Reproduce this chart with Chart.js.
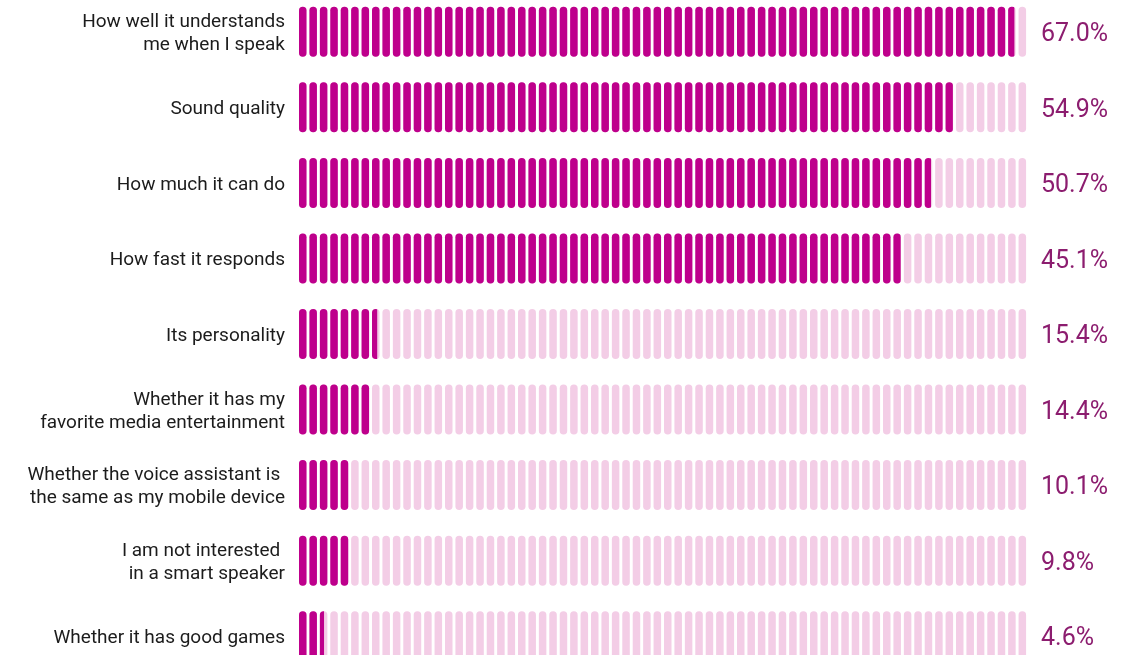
<!doctype html>
<html lang="en">

<head>
    <meta charset="utf-8" />
    <title>Smart speaker purchase factors</title>
    <script src="https://cdn.jsdelivr.net/npm/chart.js"></script>
    <style>
        html, body { margin: 0; padding: 0; background: #fff; overflow: hidden; }
        #wrap { position: absolute; left: 0; top: -6px; width: 1124px; height: 680px; }
    </style>
</head>

<body>
    <div id="wrap"><canvas id="chartFactors"></canvas></div>
    <script>
        // categories (multi-line labels as drawn)
        const labels = [
            ['How well it understands', 'me when I speak'],
            'Sound quality',
            'How much it can do',
            'How fast it responds',
            'Its personality',
            ['Whether it has my', 'favorite media entertainment'],
            ['Whether the voice assistant is ', 'the same as my mobile device'],
            ['I am not interested ', 'in a smart speaker'],
            'Whether it has good games'
        ];
        // percentages printed at the right
        const shares = [67.0, 54.9, 50.7, 45.1, 15.4, 14.4, 10.1, 9.8, 4.6];
        // filled segments as drawn in the picture (out of 70)
        const filled = [68.6, 62.7, 60.6, 57.7, 7.5, 7.0, 5.0, 5.0, 2.4];
        const track = [70, 70, 70, 70, 70, 70, 70, 70, 70];

        const DARK = '#be008c';
        const LIGHT = '#f3cde6';

        // each bar is drawn as a row of pill segments, one per scale unit
        const segmentBars = {
            id: 'segmentBars',
            beforeDatasetDraw(chart, args) {
                const ctx = chart.ctx;
                const x = chart.scales.x;
                const pitch = x.getPixelForValue(1) - x.getPixelForValue(0);
                const w = pitch * 0.72;
                const color = chart.data.datasets[args.index].backgroundColor;
                for (const bar of args.meta.data) {
                    const top = bar.y - bar.height / 2;
                    ctx.save();
                    ctx.beginPath();
                    ctx.rect(bar.base, top - 1, bar.x - bar.base, bar.height + 2);
                    ctx.clip();
                    ctx.fillStyle = color;
                    for (let i = 0; x.getPixelForValue(i) < bar.x; i++) {
                        ctx.beginPath();
                        ctx.roundRect(x.getPixelForValue(i), top, w, bar.height, w / 2);
                        ctx.fill();
                    }
                    ctx.restore();
                }
                return false;
            },
            afterDatasetsDraw(chart) {
                const ctx = chart.ctx;
                const meta = chart.getDatasetMeta(0);
                ctx.save();
                ctx.font = '25px Roboto';
                ctx.fillStyle = '#8c1d6f';
                ctx.textBaseline = 'middle';
                ctx.textAlign = 'left';
                meta.data.forEach((bar, i) => {
                    ctx.fillText(shares[i].toFixed(1) + '%', chart.chartArea.right + 12, bar.y + 3);
                });
                ctx.restore();
            }
        };

        const ctx = document.getElementById('chartFactors');
        const myChart = new Chart(ctx, {
            type: 'bar',
            data: {
                labels: labels,
                datasets: [
                    { data: filled, backgroundColor: DARK },
                    { data: track, backgroundColor: LIGHT }
                ]
            },
            options: {
                indexAxis: 'y',
                responsive: true,
                maintainAspectRatio: false,
                animation: false,
                grouped: false,
                barPercentage: 0.662,
                categoryPercentage: 1,
                layout: { padding: { top: 0, bottom: 0, left: 0, right: 95 } },
                plugins: {
                    legend: { display: false },
                    tooltip: { enabled: false }
                },
                scales: {
                    x: {
                        display: false,
                        min: 0,
                        max: 70
                    },
                    y: {
                        afterFit(scale) {
                            scale.width = 299;
                            scale.paddingTop = 0;
                            scale.paddingBottom = 0;
                        },
                        grid: { display: false, drawTicks: false },
                        border: { display: false },
                        ticks: {
                            padding: 14,
                            labelOffset: 2,
                            color: '#1c1c1c',
                            font: { family: 'Roboto', size: 19, lineHeight: 1.2 }
                        }
                    }
                }
            },
            plugins: [segmentBars]
        });
    </script>
</body>

</html>
